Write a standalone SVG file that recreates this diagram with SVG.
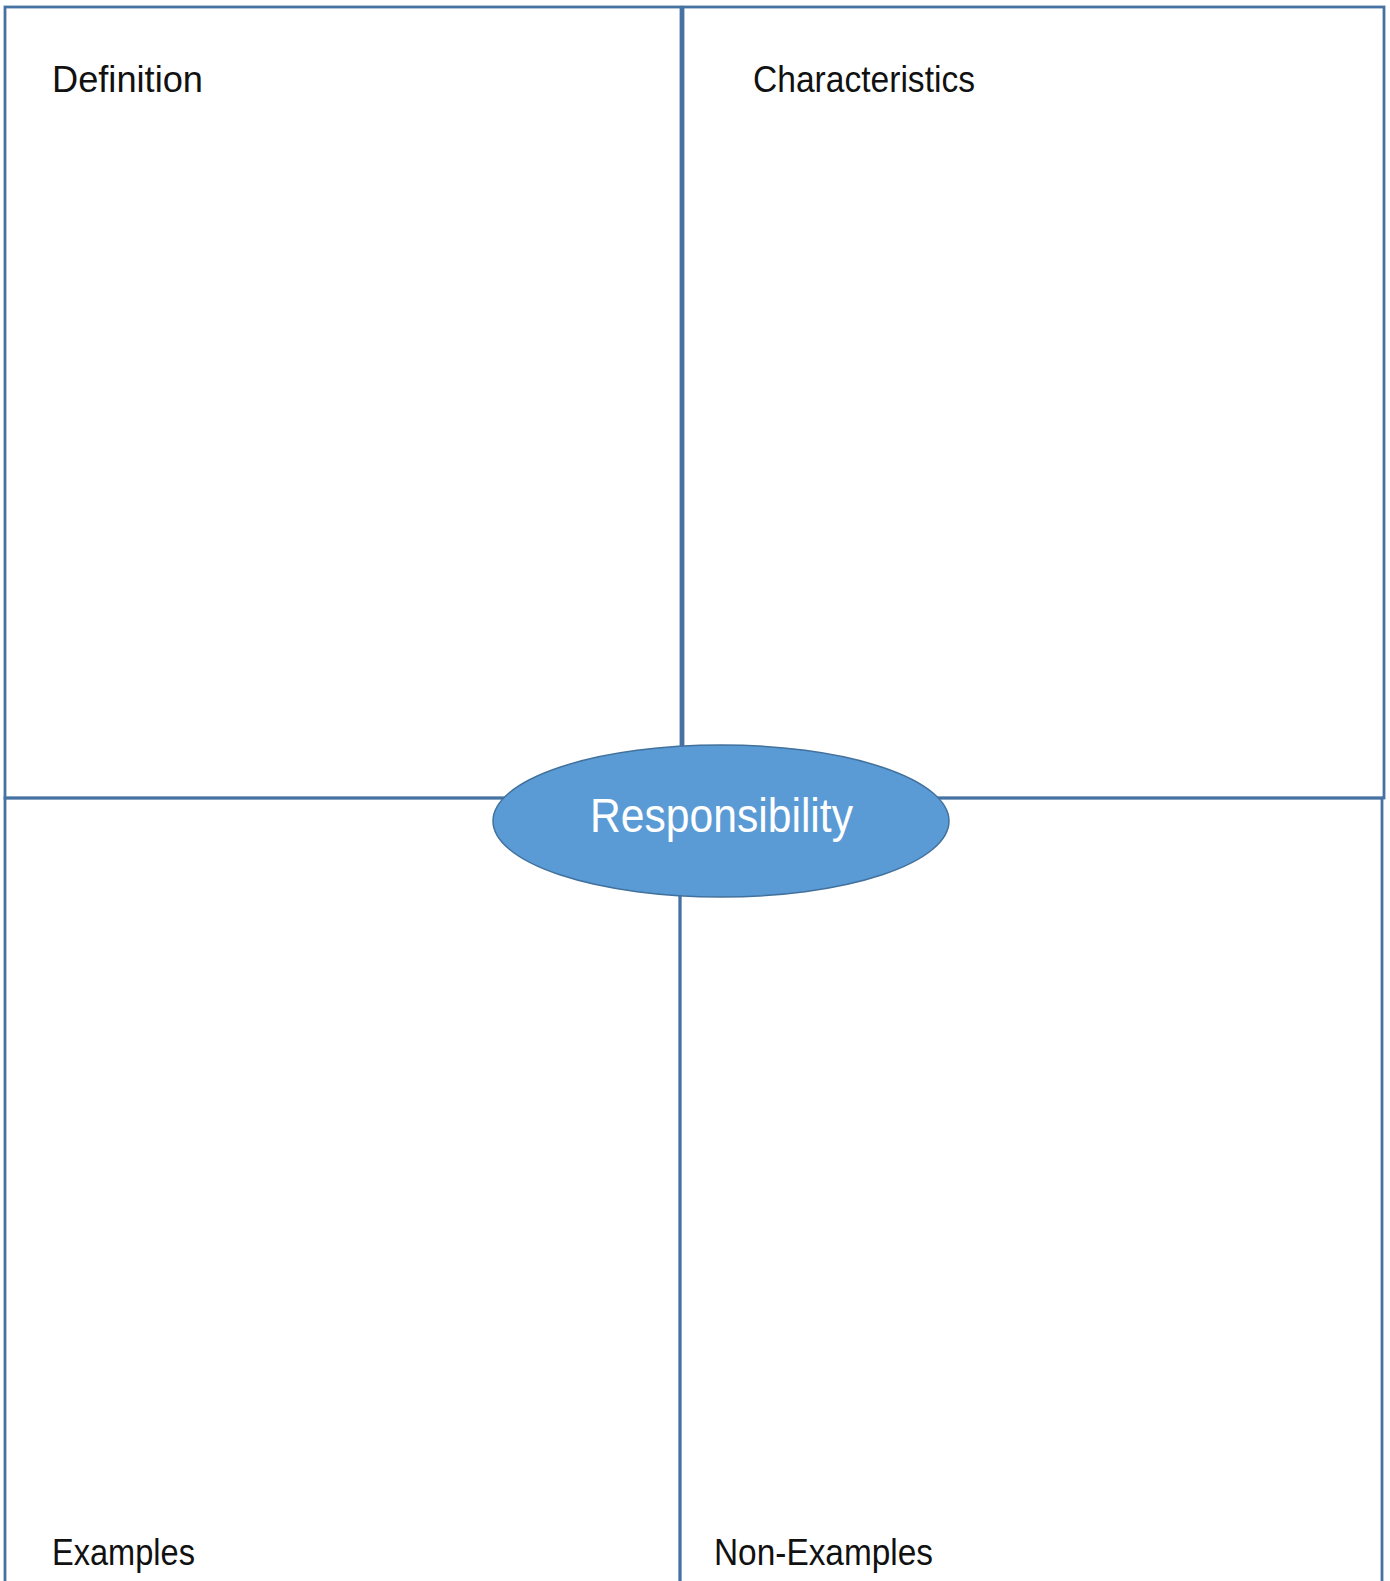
<svg xmlns="http://www.w3.org/2000/svg" width="1390" height="1581" viewBox="0 0 1390 1581">
<style>
.box{fill:none;stroke:#4672a3;stroke-width:2.8}
.lbl{font-family:"Liberation Sans",Arial,sans-serif;font-size:36px;fill:#111}
.center{fill:#5b9bd5;stroke:#41719c;stroke-width:1.5}
.ctext{font-family:"Liberation Sans",Arial,sans-serif;font-size:48px;fill:#fff}
</style>
<rect width="1390" height="1581" fill="#fff"/>
<g id="definition">
<rect class="box" x="5" y="7" width="676" height="791"/>
<text class="lbl" x="52" y="92" textLength="151" lengthAdjust="spacingAndGlyphs">Definition</text>
</g>
<g id="characteristics">
<rect class="box" x="683" y="7" width="701" height="791"/>
<text class="lbl" x="753" y="92" textLength="222" lengthAdjust="spacingAndGlyphs">Characteristics</text>
</g>
<g id="examples">
<rect class="box" x="5" y="798" width="675" height="800"/>
<text class="lbl" x="52" y="1565" textLength="143" lengthAdjust="spacingAndGlyphs">Examples</text>
</g>
<g id="non-examples">
<rect class="box" x="680" y="798" width="702" height="800"/>
<text class="lbl" x="714" y="1565" textLength="219" lengthAdjust="spacingAndGlyphs">Non-Examples</text>
</g>
<g id="connectors"></g>
<g id="responsibility">
<ellipse class="center" cx="721" cy="821" rx="228" ry="76"/>
<text class="ctext" x="590" y="832" textLength="263" lengthAdjust="spacingAndGlyphs">Responsibility</text>
</g>
</svg>
